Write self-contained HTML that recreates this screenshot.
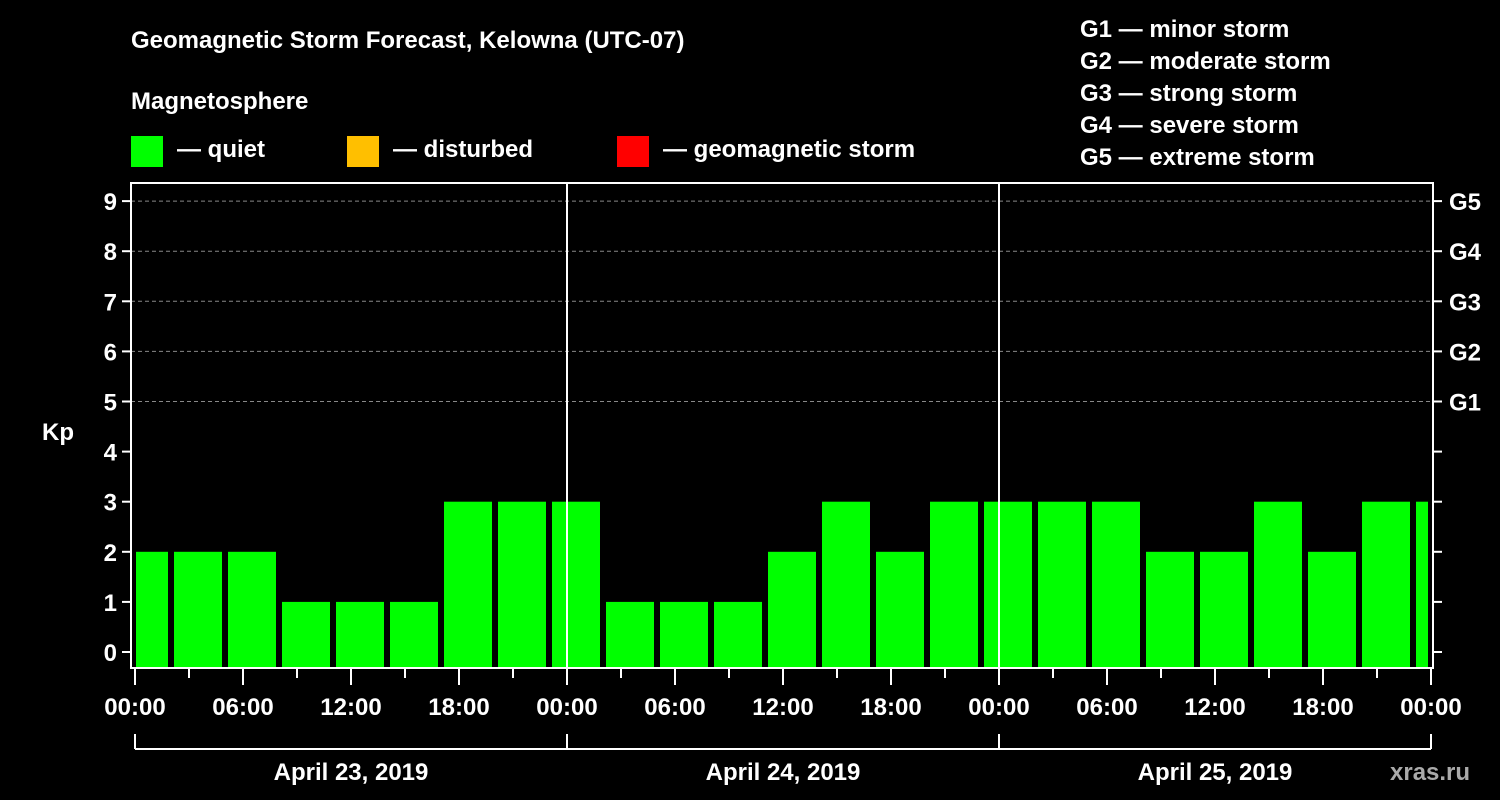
<!DOCTYPE html>
<html><head><meta charset="utf-8"><style>
body{margin:0;background:#000;}
svg{display:block;font-family:"Liberation Sans",sans-serif;font-weight:bold;}
</style></head><body>
<svg id="c" width="1500" height="800">
<g fill="#fff" font-size="24">
<text x="131" y="48">Geomagnetic Storm Forecast, Kelowna (UTC-07)</text>
<text x="131" y="109">Magnetosphere</text>
<rect x="131" y="136" width="32" height="31" fill="#00ff00"/>
<text x="177" y="157">— quiet</text>
<rect x="347" y="136" width="32" height="31" fill="#ffbf00"/>
<text x="393" y="157">— disturbed</text>
<rect x="617" y="136" width="32" height="31" fill="#ff0000"/>
<text x="663" y="157">— geomagnetic storm</text>
<text x="1080" y="37">G1 — minor storm</text>
<text x="1080" y="69">G2 — moderate storm</text>
<text x="1080" y="101">G3 — strong storm</text>
<text x="1080" y="133">G4 — severe storm</text>
<text x="1080" y="165">G5 — extreme storm</text>
<text x="42" y="440">Kp</text>
<text x="1390" y="780" fill="#aaa">xras.ru</text>
</g>
<g id="grid"></g><g id="bars"></g><g id="axes"></g>
</svg>
<script>
const kpValues=[2,2,2,1,1,1,3,3,3,1,1,1,2,3,2,3,3,3,3,2,2,3,2,3,3];
const xTickLabels=["00:00","06:00","12:00","18:00","00:00","06:00","12:00","18:00","00:00","06:00","12:00","18:00","00:00"];
const dayLabels=["April 23, 2019","April 24, 2019","April 25, 2019"];
const yTicks=[0,1,2,3,4,5,6,7,8,9];
const gLabels=["G1","G2","G3","G4","G5"];
const NS="http://www.w3.org/2000/svg";
const L=131,R=1433,T=183,B=668,x0=135,pxh=18;
const xs=h=>x0+h*pxh;
const ys=k=>652-k*50.1;
function mk(t,a,p){const e=document.createElementNS(NS,t);for(const k in a)e.setAttribute(k,a[k]);p.appendChild(e);return e;}
const grid=document.getElementById('grid'),bars=document.getElementById('bars'),axes=document.getElementById('axes');
mk('clipPath',{id:'pc'},grid);
mk('rect',{x:136,y:T,width:1292,height:B-T},document.getElementById('pc'));
bars.setAttribute('clip-path','url(#pc)');
yTicks.forEach(k=>{if(k>=5){const l=mk('line',{x1:L,x2:R,y1:ys(k),y2:ys(k),stroke:'#888','stroke-dasharray':'4,3'},grid);

}});
kpValues.forEach((v,i)=>{const c=xs(0.5+3*i);const r=mk('rect',{x:c-24,y:ys(v),width:48,height:B-ys(v),fill:'#00ff00'},bars);

});
mk('rect',{x:L,y:T,width:R-L,height:B-T,fill:'none',stroke:'#fff','stroke-width':2},axes);
[1,2].forEach(d=>{const l=mk('line',{x1:xs(24*d),x2:xs(24*d),y1:T,y2:B,stroke:'#fff','stroke-width':2},axes);

});
yTicks.forEach(k=>{mk('line',{x1:L-9,x2:L,y1:ys(k),y2:ys(k),stroke:'#fff','stroke-width':2},axes);
mk('line',{x1:R,x2:R+9,y1:ys(k),y2:ys(k),stroke:'#fff','stroke-width':2},axes);
const t=mk('text',{x:L-14,y:ys(k)+9,fill:'#fff','font-size':24,'text-anchor':'end'},axes);t.textContent=k;


if(k>=5){const g=mk('text',{x:1449,y:ys(k)+9,fill:'#fff','font-size':24},axes);g.textContent=gLabels[k-5];

}});
for(let h=0;h<=72;h+=3){const maj=h%6===0;mk('line',{x1:xs(h),x2:xs(h),y1:B,y2:B+(maj?17:10),stroke:'#fff','stroke-width':2},axes);}
xTickLabels.forEach((s,i)=>{const t=mk('text',{x:xs(6*i),y:715,fill:'#fff','font-size':24,'text-anchor':'middle'},axes);t.textContent=s;

});
mk('line',{x1:xs(0),x2:xs(72),y1:749,y2:749,stroke:'#fff','stroke-width':2},axes);
for(let d=0;d<=3;d++)mk('line',{x1:xs(24*d),x2:xs(24*d),y1:734,y2:749,stroke:'#fff','stroke-width':2},axes);
dayLabels.forEach((s,i)=>{const t=mk('text',{x:xs(24*i+12),y:780,fill:'#fff','font-size':24,'text-anchor':'middle'},axes);t.textContent=s;

});
</script>
</body></html>
